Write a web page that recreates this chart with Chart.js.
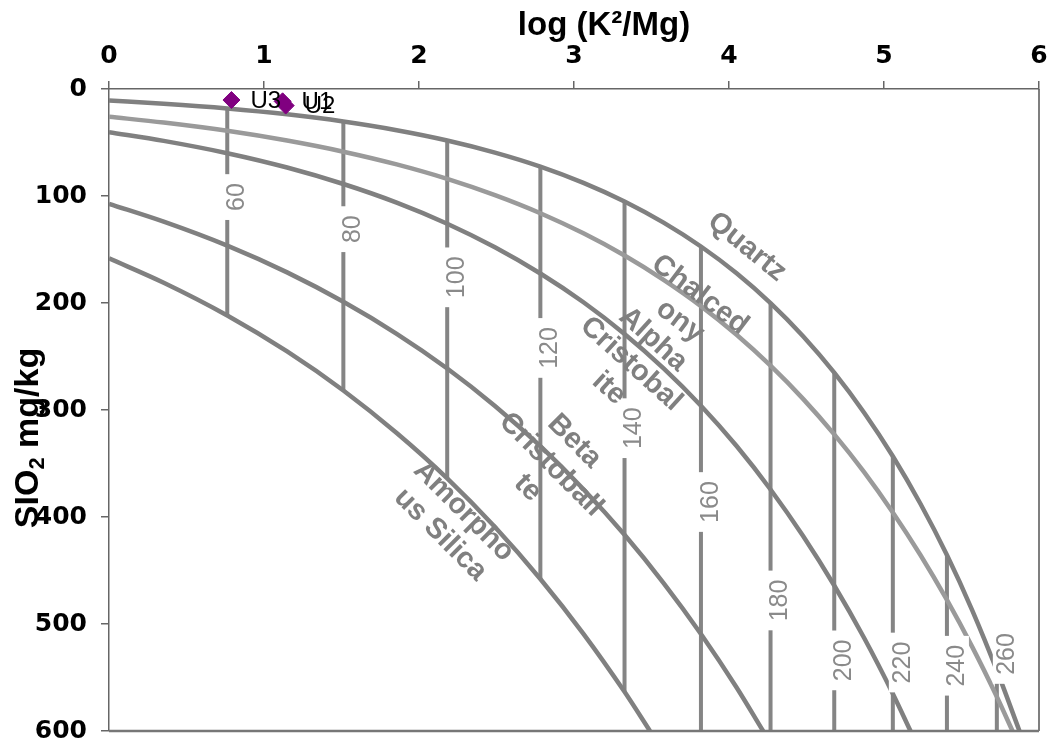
<!DOCTYPE html>
<html>
<head>
<meta charset="UTF-8">
<title>K-Mg / silica geothermometer</title>
<script src="https://cdn.jsdelivr.net/npm/chart.js@4.4.1/dist/chart.umd.min.js"></script>
<style>
  body { margin: 0; background: #fff; overflow: hidden; }
  #wrap { width: 1050px; height: 742px; }
</style>
</head>
<body>
<div id="wrap"><canvas id="geoChart"></canvas></div>
<script>
// x = log(K2/Mg), y = SiO2 mg/kg
var xTicks = [0, 1, 2, 3, 4, 5, 6];
var yTicks = [0, 100, 200, 300, 400, 500, 600];

var quartzX = [0, 0.353, 0.763, 1.149, 1.512, 1.856, 2.182, 2.490, 2.783, 3.061, 3.326, 3.578, 3.819, 4.049, 4.268, 4.478, 4.679, 4.872, 5.057, 5.235, 5.406, 5.570, 5.728, 5.874];
var quartzY = [10.8, 13.8, 18.2, 23.7, 30.4, 38.5, 48.1, 59.4, 72.5, 87.7, 105.1, 124.9, 147.2, 172.2, 200.1, 231.0, 265.1, 302.5, 343.2, 387.6, 435.5, 487.4, 543.4, 600];

var chalcX = [0, 0.353, 0.763, 1.149, 1.512, 1.856, 2.182, 2.490, 2.783, 3.061, 3.326, 3.578, 3.819, 4.049, 4.268, 4.478, 4.679, 4.872, 5.057, 5.235, 5.406, 5.570, 5.728, 5.829];
var chalcY = [25.9, 31.4, 39.1, 48.2, 58.6, 70.5, 84.0, 99.2, 116.1, 134.9, 155.6, 178.3, 202.9, 229.7, 258.6, 289.6, 322.8, 358.1, 395.7, 435.5, 477.5, 521.6, 568.0, 600];

var alphaX = [0, 0.353, 0.763, 1.149, 1.512, 1.856, 2.182, 2.490, 2.783, 3.061, 3.326, 3.578, 3.819, 4.049, 4.268, 4.478, 4.679, 4.872, 5.057, 5.171];
var alphaY = [40.3, 48.5, 60.0, 73.4, 88.8, 106.2, 125.9, 147.9, 172.4, 199.3, 228.9, 261.1, 296.0, 333.7, 374.3, 417.8, 464.0, 513.1, 565.1, 600];

var betaX = [0, 0.353, 0.763, 1.149, 1.512, 1.856, 2.182, 2.490, 2.783, 3.061, 3.326, 3.578, 3.819, 4.049, 4.220];
var betaY = [107.3, 124.0, 146.4, 171.4, 198.9, 228.8, 261.2, 296.2, 333.8, 374.0, 416.6, 461.7, 509.3, 559.3, 600];

var amorphX = [0, 0.353, 0.763, 1.149, 1.512, 1.856, 2.182, 2.490, 2.783, 3.061, 3.326, 3.490];
var amorphY = [158.3, 181.1, 211.7, 245.3, 281.8, 321.5, 363.9, 409.4, 457.9, 509.2, 563.4, 600];

// isotherms (deg C)
var isoT = [60, 80, 100, 120, 140, 160, 180, 200, 220, 240, 260];
var isoX = [0.763, 1.512, 2.182, 2.783, 3.326, 3.819, 4.268, 4.679, 5.057, 5.406, 5.728];
var isoTop = [18.2, 30.4, 48.1, 72.5, 105.1, 147.2, 200.1, 265.1, 343.2, 435.5, 543.4];
var isoBottom = [211.7, 281.8, 363.9, 457.9, 563.4, 600, 600, 600, 600, 600, 600];
var isoLabelY = [101, 131, 176, 242, 317, 386, 478, 534, 536, 539, 528];

// samples
var sampleNames = ['U3', 'U1', 'U2'];
var sampleX = [0.79, 1.12, 1.14];
var sampleY = [10.3, 11.5, 15.5];

// curve names written along the curves
var curveLabels = [
  { lines: ['Quartz'], x: 4.116, y: 147.7, angle: 39 },
  { lines: ['Chalced', 'ony'], x: 3.748, y: 204.7, angle: 37 },
  { lines: ['Alpha', 'Cristobal', 'ite'], x: 3.368, y: 257, angle: 42 },
  { lines: ['Beta', 'Cristoball', 'te'], x: 2.852, y: 351, angle: 45 },
  { lines: ['Amorpho', 'us Silica'], x: 2.213, y: 405.6, angle: 45 }
];

var FONT = '"Liberation Sans", Arial, sans-serif';

function pts(xs, ys) {
  return xs.map(function (x, i) { return { x: x, y: ys[i] }; });
}
function curve(xs, ys, color) {
  return {
    data: pts(xs, ys), showLine: true, borderColor: color, borderWidth: 4.5,
    pointRadius: 0, cubicInterpolationMode: 'monotone', order: 2
  };
}

var datasets = [{
  data: pts(sampleX, sampleY), pointStyle: 'rectRot', pointRadius: 8.5,
  backgroundColor: '#800080', borderColor: '#800080', showLine: false, order: 0
}];
datasets.push(curve(quartzX, quartzY, '#808080'));
datasets.push(curve(chalcX, chalcY, '#9a9a9a'));
datasets.push(curve(alphaX, alphaY, '#808080'));
datasets.push(curve(betaX, betaY, '#808080'));
datasets.push(curve(amorphX, amorphY, '#808080'));
isoT.forEach(function (t, i) {
  datasets.push({
    data: [{ x: isoX[i], y: isoTop[i] }, { x: isoX[i], y: isoBottom[i] }],
    showLine: true, borderColor: '#858585', borderWidth: 4, pointRadius: 0, order: 3
  });
});

var overlay = {
  id: 'overlay',
  afterDatasetsDraw: function (chart) {
    var ctx = chart.ctx, xs = chart.scales.x, ys = chart.scales.y, a = chart.chartArea;
    ctx.save();
    // right and bottom frame
    ctx.strokeStyle = '#555'; ctx.lineWidth = 1.5;
    ctx.beginPath(); ctx.moveTo(a.right, a.top); ctx.lineTo(a.right, a.bottom); ctx.stroke();
    ctx.strokeStyle = '#777'; ctx.lineWidth = 2.5;
    ctx.beginPath(); ctx.moveTo(a.left, a.bottom); ctx.lineTo(a.right, a.bottom); ctx.stroke();

    // isotherm labels on white boxes
    ctx.font = '25px ' + FONT;
    ctx.textAlign = 'center'; ctx.textBaseline = 'middle';
    isoT.forEach(function (t, i) {
      var px = xs.getPixelForValue(isoX[i]) + 9, py = ys.getPixelForValue(isoLabelY[i]);
      var txt = String(t), w = ctx.measureText(txt).width;
      ctx.save(); ctx.translate(px, py); ctx.rotate(-Math.PI / 2);
      ctx.fillStyle = '#fff'; ctx.fillRect(-w / 2 - 9, -13, w + 18, 26);
      ctx.fillStyle = '#8a8a8a'; ctx.fillText(txt, 0, 1);
      ctx.restore();
    });

    // curve names
    ctx.font = 'bold 29px ' + FONT;
    ctx.fillStyle = '#808080';
    curveLabels.forEach(function (c) {
      var px = xs.getPixelForValue(c.x), py = ys.getPixelForValue(c.y);
      ctx.save(); ctx.translate(px, py); ctx.rotate(c.angle * Math.PI / 180);
      c.lines.forEach(function (ln, k) {
        ctx.fillText(ln, 0, (k - (c.lines.length - 1) / 2) * 33);
      });
      ctx.restore();
    });

    // sample names
    ctx.font = '24px ' + FONT;
    ctx.fillStyle = '#000'; ctx.textAlign = 'left';
    sampleNames.forEach(function (n, i) {
      ctx.fillText(n, xs.getPixelForValue(sampleX[i]) + 19, ys.getPixelForValue(sampleY[i]) + 1);
    });

    // axis titles
    ctx.font = 'bold 33px ' + FONT;
    ctx.textAlign = 'center'; ctx.textBaseline = 'alphabetic';
    ctx.fillText('log (K\u00B2/Mg)', 604, 35);

    ctx.save();
    ctx.translate(38, 438); ctx.rotate(-Math.PI / 2);
    var big = 'bold 34px ' + FONT, small = 'bold 22px ' + FONT;
    ctx.font = big; var w1 = ctx.measureText('SIO').width, w3 = ctx.measureText(' mg/kg').width;
    ctx.font = small; var w2 = ctx.measureText('2').width;
    var x0 = -(w1 + w2 + w3) / 2;
    ctx.textAlign = 'left';
    ctx.font = big; ctx.fillText('SIO', x0, 0);
    ctx.font = small; ctx.fillText('2', x0 + w1, 6);
    ctx.font = big; ctx.fillText(' mg/kg', x0 + w1 + w2, 0);
    ctx.restore();

    ctx.restore();
  }
};

var tickFont = { family: '"DejaVu Sans", sans-serif', size: 25, weight: 'bold' };

new Chart(document.getElementById('geoChart'), {
  type: 'scatter',
  data: { datasets: datasets },
  options: {
    responsive: true, maintainAspectRatio: false, animation: false,
    devicePixelRatio: 1,
    layout: { padding: { left: 0, top: 0, right: 11, bottom: 11 } },
    plugins: { legend: { display: false }, tooltip: { enabled: false } },
    scales: {
      x: {
        type: 'linear', position: 'top', min: 0, max: 6,
        afterFit: function (s) { s.height = 89; s.paddingLeft = 0; s.paddingRight = 0; },
        afterBuildTicks: function (s) { s.ticks = xTicks.map(function (v) { return { value: v }; }); },
        ticks: { font: tickFont, color: '#000', padding: 10, maxRotation: 0 },
        grid: { drawOnChartArea: false, tickLength: 8, color: '#666', lineWidth: 1.5 },
        border: { color: '#666', width: 1.5 }
      },
      y: {
        type: 'linear', reverse: true, min: 0, max: 600,
        afterFit: function (s) { s.width = 109; s.paddingTop = 0; s.paddingBottom = 0; },
        afterBuildTicks: function (s) { s.ticks = yTicks.map(function (v) { return { value: v }; }); },
        ticks: { font: tickFont, color: '#000', padding: 14 },
        grid: { drawOnChartArea: false, tickLength: 8, color: '#666', lineWidth: 1.5 },
        border: { color: '#666', width: 1.5 }
      }
    }
  },
  plugins: [overlay]
});
</script>
</body>
</html>
